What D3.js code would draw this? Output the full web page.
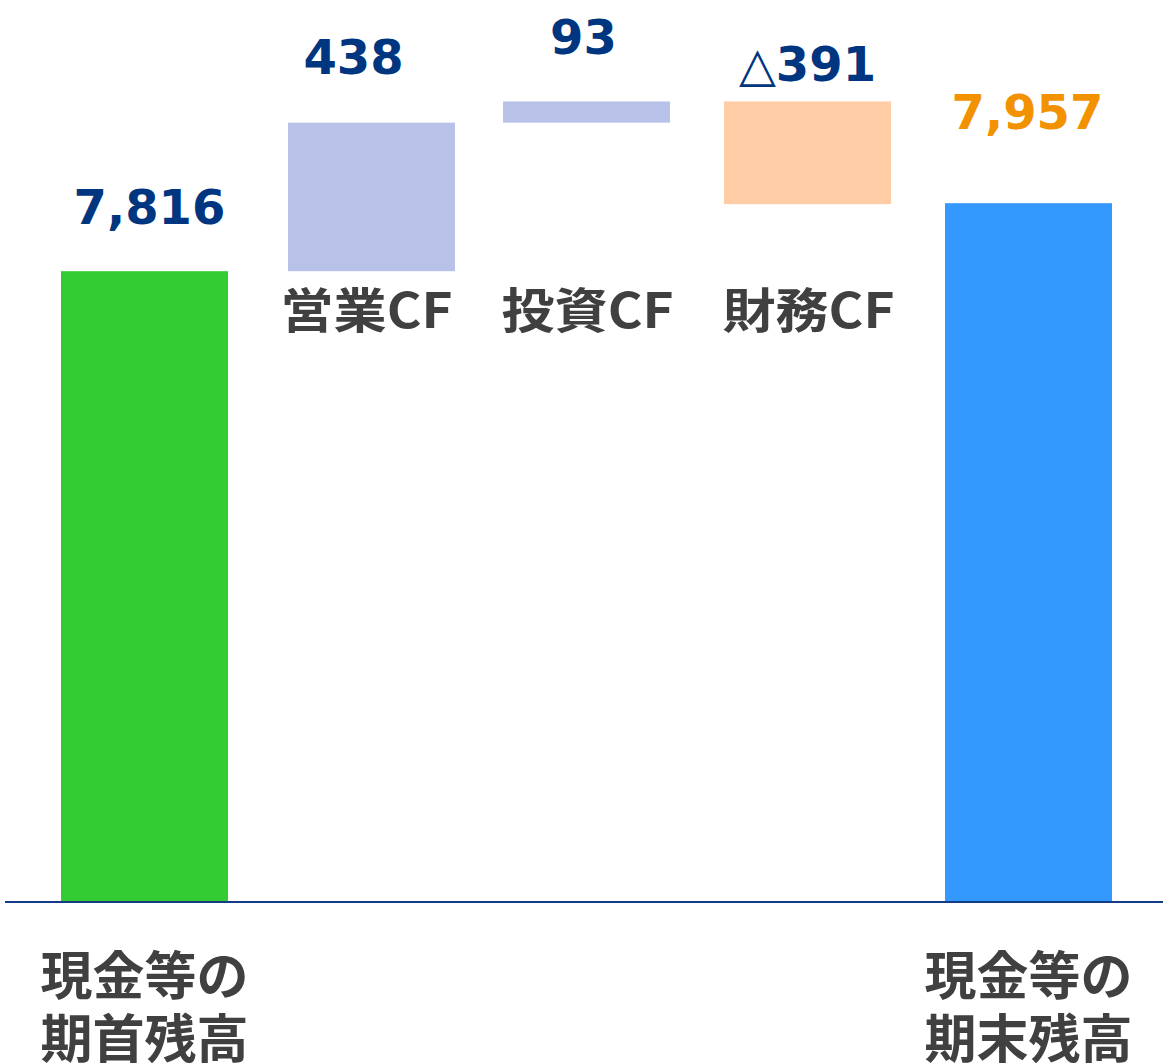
<!DOCTYPE html>
<html><head><meta charset="utf-8">
<script src="https://cdn.jsdelivr.net/npm/d3@7/dist/d3.min.js"></script>
<style>html,body{margin:0;padding:0;background:#fff;}svg{display:block;}</style>
</head><body>
<svg id="chart" width="1163" height="1063"></svg>
<script>
// ---- data ----
const categories = ["期首", "営業CF", "投資CF", "財務CF", "期末"];
const kinds = ["total", "delta", "delta", "delta", "total"];
// values printed on the chart (百万円)
const labelValues = [7816, 438, 93, -391, 7957];
// flows as drawn in the source picture (the source bars are not to scale)
const drawnValues = [7816, 308, 44, -213, 7957];
const bottomLabels = [["現金等の", "期首残高"], null, null, null, ["現金等の", "期末残高"]];
const cfLabels = [null, "営業CF", "投資CF", "財務CF", null];

// ---- layout ----
const W = 1163, H = 1063;
const svg = d3.select("#chart");
const x = d3.scaleBand().domain(categories).range([34, 1139]).paddingInner(54/221).paddingOuter(0.1222);
const y = d3.scaleLinear().domain([6508, 8400]).range([902, 902 - 1892*0.48227]);

// build waterfall segments
let run = 0;
const segs = categories.map((c, i) => {
  let y0, y1;
  if (kinds[i] === "total") { y0 = 6508; y1 = drawnValues[i]; run = drawnValues[i]; }
  else { y0 = run; y1 = run + drawnValues[i]; run = y1; }
  return {c, i, y0, y1, lo: Math.min(y0, y1), hi: Math.max(y0, y1), start: y0};
});
const fills = ["#33CC33", "#B8C2E8", "#B8C2E8", "#FFCCA6", "#3399FF"];
const barDx = [0, 6, 0, 0, 0];

svg.selectAll("rect.bar").data(segs).join("rect")
  .attr("class", "bar")
  .attr("x", (d, i) => x(d.c) + barDx[i])
  .attr("width", x.bandwidth())
  .attr("y", d => y(d.hi))
  .attr("height", d => y(d.lo) - y(d.hi))
  .attr("fill", (d, i) => fills[i]);

// baseline
svg.append("line").attr("x1", 5).attr("x2", W).attr("y1", y(6508)).attr("y2", y(6508))
  .attr("stroke", "#123C86").attr("stroke-width", 2);

// value labels
const fmt = v => v < 0 ? "△" + d3.format(",")(-v) : d3.format(",")(v);
const gap = [47, 49, 47, 20, 74];
const dxs = [5, -12, -3, 0, -1];
const valColors = ["#003580", "#003580", "#003580", "#003580", "#F39200"];
svg.selectAll("text.val").data(segs).join("text")
  .attr("class", "val")
  .attr("x", (d, i) => x(d.c) + x.bandwidth()/2 + dxs[i])
  .attr("y", (d, i) => (kinds[i] === "delta" && drawnValues[i] < 0 ? y(d.start) : y(d.hi)) - gap[i])
  .attr("text-anchor", "middle")
  .attr("font-family", "DejaVu Sans, Verdana, sans-serif")
  .attr("font-weight", "bold")
  .attr("font-size", 48)
  .attr("fill", (d, i) => valColors[i])
  .text((d, i) => fmt(labelValues[i]));

// CF category labels
const cjk = "'Noto Sans CJK JP', 'Noto Sans', sans-serif";
svg.selectAll("text.cf").data(categories.filter((c, i) => cfLabels[i])).join("text")
  .attr("class", "cf")
  .attr("x", c => x(c) + x.bandwidth()/2 + 1)
  .attr("y", 328)
  .attr("text-anchor", "middle")
  .attr("font-family", cjk).attr("font-weight", "bold").attr("font-size", 48)
  .attr("textLength", 172).attr("lengthAdjust", "spacingAndGlyphs")
  .attr("fill", "#404040")
  .text(c => cfLabels[categories.indexOf(c)]);

// bottom labels
categories.forEach((c, i) => {
  if (!bottomLabels[i]) return;
  const t = svg.append("text")
    .attr("text-anchor", "middle")
    .attr("font-family", cjk).attr("font-weight", "bold").attr("font-size", 52)
    .attr("fill", "#404040");
  bottomLabels[i].forEach((line, j) => {
    t.append("tspan").attr("x", x(c) + x.bandwidth()/2).attr("y", 995 + j*63).text(line);
  });
});
</script>
</body></html>
